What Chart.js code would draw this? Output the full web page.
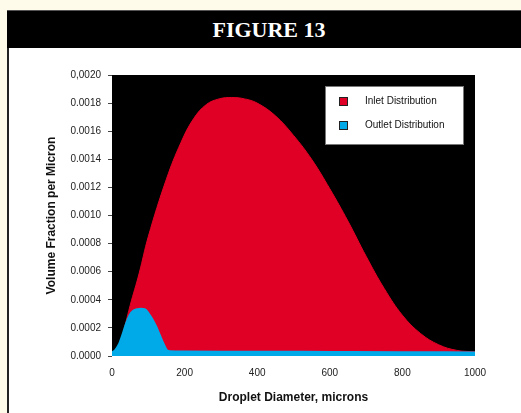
<!DOCTYPE html>
<html lang="en">
<head>
<meta charset="UTF-8">
<title>Figure 13</title>
<script src="https://cdn.jsdelivr.net/npm/chart.js"></script>
<style>
  body { margin: 0; background: #fffbeb; width: 521px; height: 413px; overflow: hidden; position: relative; }
  #header { position: absolute; left: 7px; top: 10px; width: 514px; height: 38px; background: #000;
            border-top: 1px solid #555; box-sizing: border-box;
            color: #fff; font: bold 22px "Liberation Serif", "DejaVu Serif", serif; line-height: 37px;
            text-align: center; padding-left: 10px; }
  #panel { position: absolute; left: 7px; top: 48px; width: 514px; height: 365px; background: #fff;
           border-left: 2px solid #222; box-sizing: border-box; }
  #chart { position: absolute; left: 2px; top: 0; }
</style>
</head>
<body>
<div id="header">FIGURE 13</div>
<div id="panel">
  <canvas id="chart" width="512" height="365"></canvas>
</div>
<script>
// droplet diameter (microns) and volume fraction per micron
const inletX = [0, 12, 25, 50, 75, 100, 150, 190, 225, 260, 295, 330, 365, 400, 450, 500, 550, 600, 650, 700, 750, 800, 850, 900, 950, 1000];
const inletY = [0, 0.00003, 0.00011, 0.00036, 0.00059, 0.00085, 0.00126, 0.00152, 0.00169, 0.00179, 0.00183, 0.00184, 0.00183, 0.00180, 0.00171, 0.00157, 0.00140, 0.00119, 0.00096, 0.00071, 0.00048, 0.00029, 0.00016, 0.00008, 0.00004, 0.00003];

const outletX = [0, 10, 20, 30, 40, 50, 60, 70, 80, 90, 100, 110, 120, 130, 140, 150, 160, 200, 400, 600, 800, 1000];
const outletY = [0.00002, 0.00004, 0.00008, 0.00015, 0.00023, 0.00029, 0.00032, 0.00033, 0.000332, 0.00033, 0.00030, 0.00026, 0.00021, 0.00015, 0.00009, 0.00004, 0.00003, 0.000028, 0.000027, 0.000025, 0.000023, 0.000022];

const xTickValues = [0, 200, 400, 600, 800, 1000];
const xTickLabels = ['0', '200', '400', '600', '800', '1000'];
const yTickValues = [0, 0.0002, 0.0004, 0.0006, 0.0008, 0.0010, 0.0012, 0.0014, 0.0016, 0.0018, 0.0020];
const yTickLabels = ['0.0000', '0.0002', '0.0004', '0.0006', '0.0008', '0.0010', '0.0012', '0.0014', '0.0016', '0.0018', '0,0020'];

const seriesNames = ['Inlet Distribution', 'Outlet Distribution'];
const RED = '#e00025';
const CYAN = '#00a9e8';

function pts(xs, ys) {
  return xs.map((x, i) => ({ x: x, y: ys[i] }));
}

Chart.defaults.font.family = '"Liberation Sans", Arial, sans-serif';
Chart.defaults.color = '#222';

// black plot background
const plotBg = {
  id: 'plotBg',
  beforeDraw(chart) {
    const a = chart.chartArea, ctx = chart.ctx;
    ctx.save();
    ctx.fillStyle = '#000';
    ctx.fillRect(a.left, a.top, a.right - a.left, a.bottom - a.top);
    ctx.restore();
  }
};

// legend box inside the plot, top right
const boxLegend = {
  id: 'boxLegend',
  afterDraw(chart) {
    const a = chart.chartArea, ctx = chart.ctx;
    const w = 139, h = 59;
    const left = a.right - 11 - w, top = a.top + 11;
    ctx.save();
    ctx.fillStyle = '#fff';
    ctx.fillRect(left, top, w, h);
    ctx.strokeStyle = '#777';
    ctx.lineWidth = 1;
    ctx.strokeRect(left + 0.5, top + 0.5, w - 1, h - 1);
    ctx.font = '10px "Liberation Sans", Arial, sans-serif';
    ctx.textBaseline = 'middle';
    chart.data.datasets.forEach((ds, i) => {
      const cy = top + 15.5 + i * 24;
      ctx.fillStyle = ds.backgroundColor;
      ctx.fillRect(left + 14, cy - 4.5, 9, 9);
      ctx.strokeStyle = '#222';
      ctx.strokeRect(left + 14.5, cy - 4, 8, 8);
      ctx.fillStyle = '#111';
      ctx.fillText(ds.label, left + 40, cy);
    });
    ctx.restore();
  }
};

new Chart(document.getElementById('chart'), {
  type: 'line',
  data: {
    datasets: [
      {
        label: seriesNames[0],
        data: pts(inletX, inletY),
        borderColor: RED,
        backgroundColor: RED,
        borderWidth: 1,
        fill: 'origin',
        pointRadius: 0,
        tension: 0.4,
        order: 2
      },
      {
        label: seriesNames[1],
        data: pts(outletX, outletY),
        borderColor: CYAN,
        backgroundColor: CYAN,
        borderWidth: 3,
        fill: 'origin',
        pointRadius: 0,
        cubicInterpolationMode: 'monotone',
        order: 1
      }
    ]
  },
  options: {
    responsive: false,
    animation: false,
    layout: { padding: { left: 0, top: 27, right: 48, bottom: 0 } },
    plugins: {
      legend: { display: false },
      tooltip: { enabled: false }
    },
    scales: {
      x: {
        type: 'linear',
        min: 0,
        max: 1000,
        afterBuildTicks(s) { s.ticks = xTickValues.map(v => ({ value: v })); },
        afterFit(s) { s.height = 57; },
        grid: { display: false, drawTicks: false },
        border: { display: false },
        ticks: { padding: 11, font: { size: 10 }, maxRotation: 0, callback: (v, i) => xTickLabels[i] },
        title: { display: true, text: 'Droplet Diameter, microns', font: { size: 12, weight: 'bold' }, padding: { bottom: 8 }, color: '#111' }
      },
      y: {
        min: 0,
        max: 0.002,
        afterBuildTicks(s) { s.ticks = yTickValues.map(v => ({ value: v })); },
        afterFit(s) { s.width = 101; },
        grid: { drawOnChartArea: false, drawTicks: true, tickLength: 4, color: '#444' },
        border: { display: false },
        ticks: { padding: 7, font: { size: 10 }, callback: (v, i) => yTickLabels[i] },
        title: { display: true, text: 'Volume Fraction per Micron', font: { size: 12, weight: 'bold' }, padding: { top: 33 }, color: '#111' }
      }
    }
  },
  plugins: [plotBg, boxLegend]
});
</script>
</body>
</html>
